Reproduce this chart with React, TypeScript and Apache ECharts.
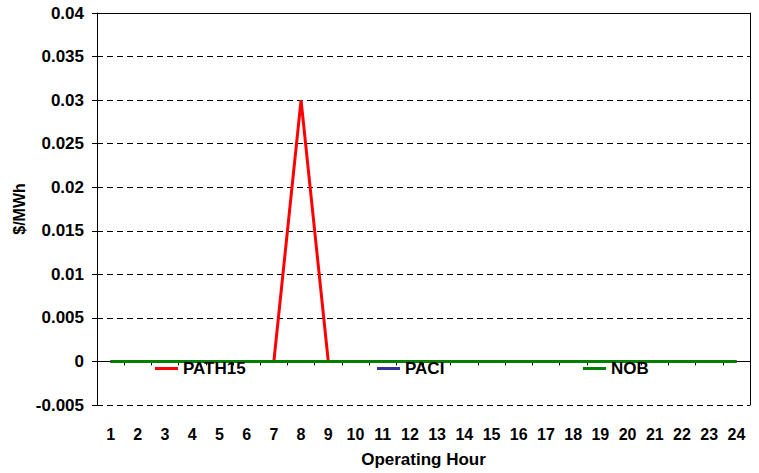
import React, { useEffect, useRef } from "react";
import * as echarts from "echarts";

const hours = ["1","2","3","4","5","6","7","8","9","10","11","12","13","14","15","16","17","18","19","20","21","22","23","24"];
const path15 = [0, 0, 0, 0, 0, 0, 0, 0.03, 0, 0, 0, 0, 0, 0, 0, 0, 0, 0, 0, 0, 0, 0, 0, 0];
const paci = [0, 0, 0, 0, 0, 0, 0, 0, 0, 0, 0, 0, 0, 0, 0, 0, 0, 0, 0, 0, 0, 0, 0, 0];
const nob = [0, 0, 0, 0, 0, 0, 0, 0, 0, 0, 0, 0, 0, 0, 0, 0, 0, 0, 0, 0, 0, 0, 0, 0];
const yMin = -0.005;
const yMax = 0.04;
const yStep = 0.005;

const FONT = "'Liberation Sans', Arial, sans-serif";

export default function App() {
  const ref = useRef<HTMLDivElement>(null);
  useEffect(() => {
    if (!ref.current) return;
    const chart = echarts.init(ref.current, null, { renderer: "svg" });
    const legendText = { fontFamily: FONT, fontWeight: "bold", fontSize: 17, color: "#000" };
    const mkLegend = (name: string, left: number) => ({
      data: [name],
      left,
      top: 360,
      orient: "horizontal",
      icon: "rect",
      itemWidth: 23,
      itemHeight: 3,
      itemGap: 4,
      padding: 0,
      textStyle: legendText,
      selectedMode: false,
    });
    chart.setOption({
      animation: false,
      backgroundColor: "#fff",
      grid: { left: 97, right: 9, top: 13, bottom: 67, containLabel: false },
      legend: [mkLegend("PATH15", 155), mkLegend("PACI", 377), mkLegend("NOB", 583)],
      xAxis: [
        {
          type: "category",
          data: hours,
          position: "bottom",
          boundaryGap: true,
          axisLine: { show: false, onZero: false },
          axisTick: { show: false },
          axisLabel: { margin: 21, fontFamily: FONT, fontWeight: "bold", fontSize: 16, color: "#000" },
          name: "Operating Hour",
          nameLocation: "middle",
          nameGap: 46,
          nameMoveOverlap: false,
          nameTextStyle: { fontFamily: FONT, fontWeight: "bold", fontSize: 17, color: "#000" },
          splitLine: { show: false },
        },
        {
          type: "category",
          data: hours,
          position: "top",
          boundaryGap: true,
          axisLine: { show: true, onZero: true, lineStyle: { color: "#000", width: 1 } },
          axisTick: { show: true, inside: true, length: 4, lineStyle: { color: "#000" } },
          axisLabel: { show: false },
          splitLine: { show: false },
        },
      ],
      yAxis: [
        {
          type: "value",
          min: yMin,
          max: yMax,
          interval: yStep,
          name: "$/MWh",
          nameLocation: "middle",
          nameGap: 70,
          nameMoveOverlap: false,
          nameRotate: 90,
          nameTextStyle: { fontFamily: FONT, fontWeight: "bold", fontSize: 16, color: "#000" },
          axisLine: { show: true, lineStyle: { color: "#000", width: 1 } },
          axisTick: { show: true, length: 5, lineStyle: { color: "#000" } },
          axisLabel: {
            margin: 13,
            fontFamily: FONT,
            fontWeight: "bold",
            fontSize: 17,
            color: "#000",
            formatter: (v: number) => String(parseFloat(v.toFixed(3))),
          },
          splitLine: { show: true, lineStyle: { color: "#000", type: [6, 4], width: 1 } },
        },
        {
          type: "value",
          min: yMin,
          max: yMax,
          interval: yStep,
          position: "right",
          axisLine: { show: true, lineStyle: { color: "#000", width: 1 } },
          axisTick: { show: false },
          axisLabel: { show: false },
          splitLine: { show: false },
        },
      ],
      series: [
        {
          name: "PATH15",
          type: "line",
          data: path15,
          symbol: "none",
          color: "#FF0000",
          lineStyle: { color: "#FF0000", width: 3 },
        },
        {
          name: "PACI",
          type: "line",
          data: paci,
          symbol: "none",
          color: "#333399",
          lineStyle: { color: "#333399", width: 3 },
        },
        {
          name: "NOB",
          type: "line",
          data: nob,
          symbol: "none",
          color: "#008000",
          lineStyle: { color: "#008000", width: 3 },
          markLine: {
            silent: true,
            symbol: "none",
            label: { show: false },
            lineStyle: { color: "#000", type: "solid", width: 1 },
            data: [{ yAxis: yMax }],
          },
        },
      ],
    });
    return () => chart.dispose();
  }, []);
  return (
    <div
      ref={ref}
      style={{ position: "fixed", left: 0, top: 0, width: 759, height: 473, background: "#fff" }}
    />
  );
}
